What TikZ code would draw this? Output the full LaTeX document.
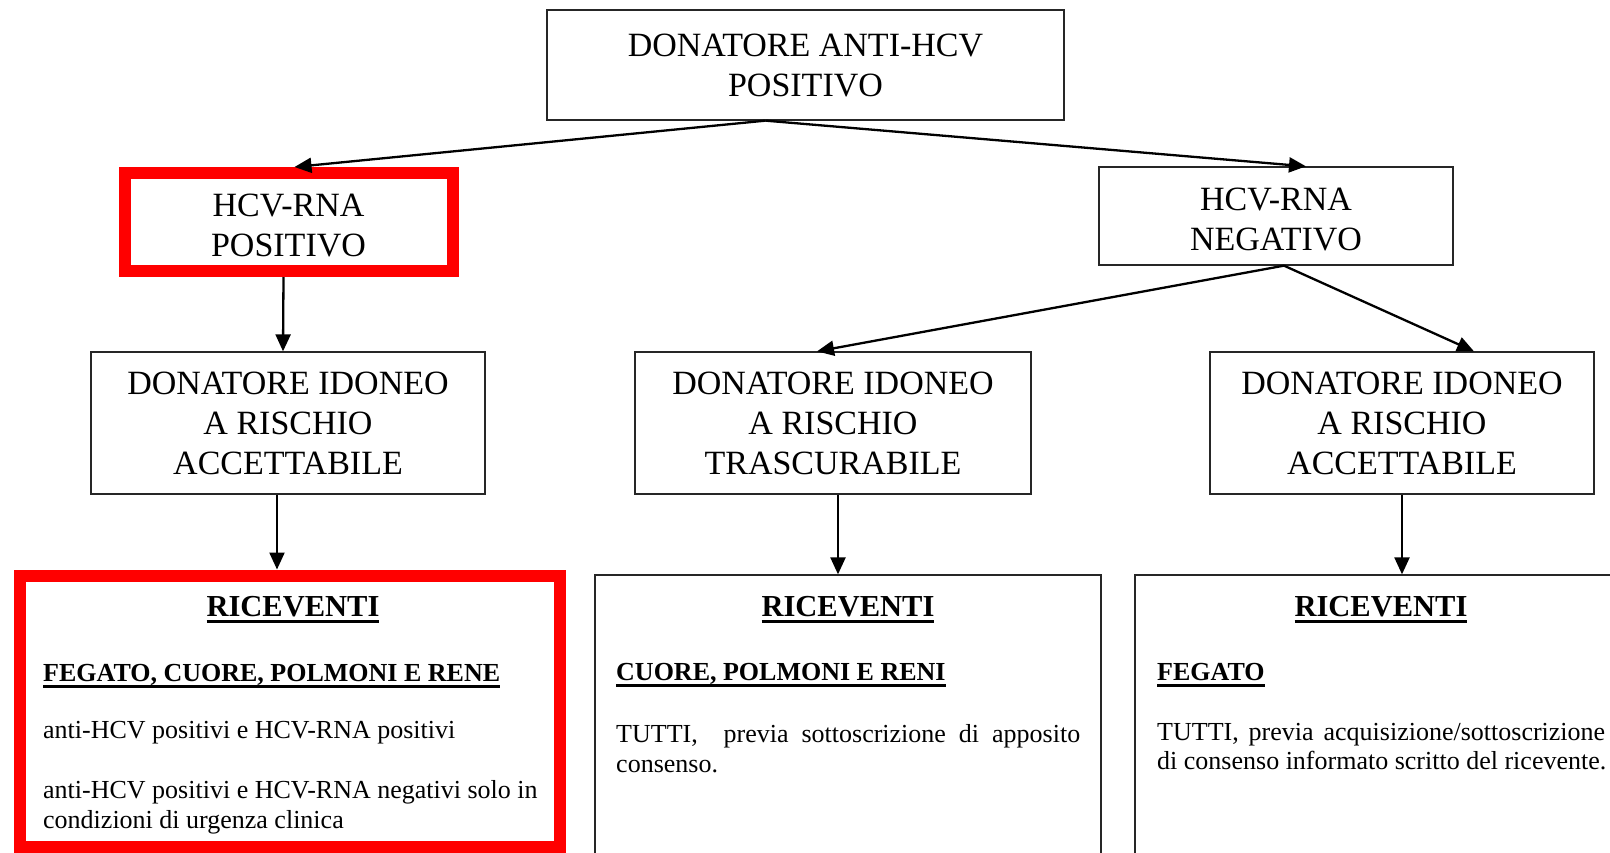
\documentclass[tikz,border=0pt]{standalone}
\usepackage{fontspec}
\setmainfont{Liberation Serif}
\usetikzlibrary{arrows.meta,positioning}
\newcommand{\undl}[1]{\setbox0=\hbox{#1}\rlap{\rule[-6.5pt]{\wd0}{2.3pt}}\box0}

\begin{document}
\begin{tikzpicture}[
  x=1pt, y=-1pt,
  box/.style={draw=black!85, line width=1.3pt, align=center, inner sep=0pt,
              font=\fontsize{34}{40}\selectfont},
  redbox/.style={box, draw=red, line width=12pt},
  arr/.style={-{Triangle[length=17pt,width=15pt]}, line width=2.3pt},
  rcvhead/.style={font=\fontsize{30.5}{36}\selectfont\bfseries, inner sep=0pt, anchor=base},
  subhd/.style={font=\fontsize{26}{29}\selectfont\bfseries, inner sep=0pt, anchor=base west},
  txt/.style={font=\fontsize{26}{29}\selectfont, inner sep=0pt, anchor=base west},
]
\useasboundingbox (0,0) rectangle (1610,852);
\clip (0,0) rectangle (1610,852);

\node[box, minimum width=517pt, minimum height=110pt] (donor) at (805.5,65) {DONATORE ANTI-HCV\\POSITIVO};
\node[redbox, minimum width=328pt, minimum height=98pt] (rnapos) at (288.5,222) {\rule{0pt}{30pt}HCV-RNA\\POSITIVO};
\node[box, minimum width=354pt, minimum height=98pt] (rnaneg) at (1276,216) {\rule{0pt}{30pt}HCV-RNA\\NEGATIVO};

\node[box, minimum width=394pt, minimum height=142pt] (idoL) at (288,423) {DONATORE IDONEO\\A RISCHIO\\ACCETTABILE};
\node[box, minimum width=396pt, minimum height=142pt] (idoM) at (833,423) {DONATORE IDONEO\\A RISCHIO\\TRASCURABILE};
\node[box, minimum width=384pt, minimum height=142pt] (idoR) at (1402,423) {DONATORE IDONEO\\A RISCHIO\\ACCETTABILE};

\node[redbox, minimum width=540pt, minimum height=271pt] (ricL) at (290,711) {};
\node[box, minimum width=506pt, minimum height=330pt] (ricM) at (848,740) {};
\node[box, minimum width=565pt, minimum height=330pt] (ricR) at (1417.5,740) {};

\coordinate (fork) at ([xshift=-40pt]donor.south);
\draw[arr] (fork) -- ([xshift=6pt]rnapos.north);
\draw[arr] (fork) -- ([xshift=30pt]rnaneg.north);
\draw[arr] ([xshift=-5pt]rnapos.south) -- ([xshift=-5pt]idoL.north);
\coordinate (split) at ([xshift=8pt]rnaneg.south);
\draw[arr] (split) -- ([xshift=-16pt]idoM.north);
\draw[arr] (split) -- ([xshift=72pt]idoR.north);
\draw[arr] ([xshift=-11pt]idoL.south) -- ([xshift=-13pt]ricL.north);
\draw[arr] ([xshift=5pt]idoM.south) -- ([xshift=-10pt]ricM.north);
\draw[arr] (idoR.south) -- ([xshift=-15.5pt]ricR.north);

\node[rcvhead] (hdL) at (293,616) {\undl{RICEVENTI}};
\node[subhd] (orgL) at (43,681) {\undl{FEGATO, CUORE, POLMONI E RENE}};
\node[txt] (txL1) at (43,738) {anti-HCV positivi e HCV-RNA positivi};
\node[txt] (txL2) at (43,798) {anti-HCV positivi e HCV-RNA negativi solo in};
\node[txt] (txL3) at (43,828) {condizioni di urgenza clinica};

\node[rcvhead] (hdM) at (848,616) {\undl{RICEVENTI}};
\node[subhd] (orgM) at (616,680) {\undl{CUORE, POLMONI E RENI}};
\node[txt] (txM1) at (616,742) {\makebox[464pt][s]{TUTTI,\ \ previa sottoscrizione di apposito}};
\node[txt] (txM2) at (616,772) {consenso.};

\node[rcvhead] (hdR) at (1381,616) {\undl{RICEVENTI}};
\node[subhd] (orgR) at (1157,680) {\undl{FEGATO}};
\node[txt] (txR1) at (1157,740) {\makebox[448pt][s]{TUTTI, previa acquisizione/sottoscrizione}};
\node[txt] (txR2) at (1157,769) {di consenso informato scritto del ricevente.};
\end{tikzpicture}
\end{document}
